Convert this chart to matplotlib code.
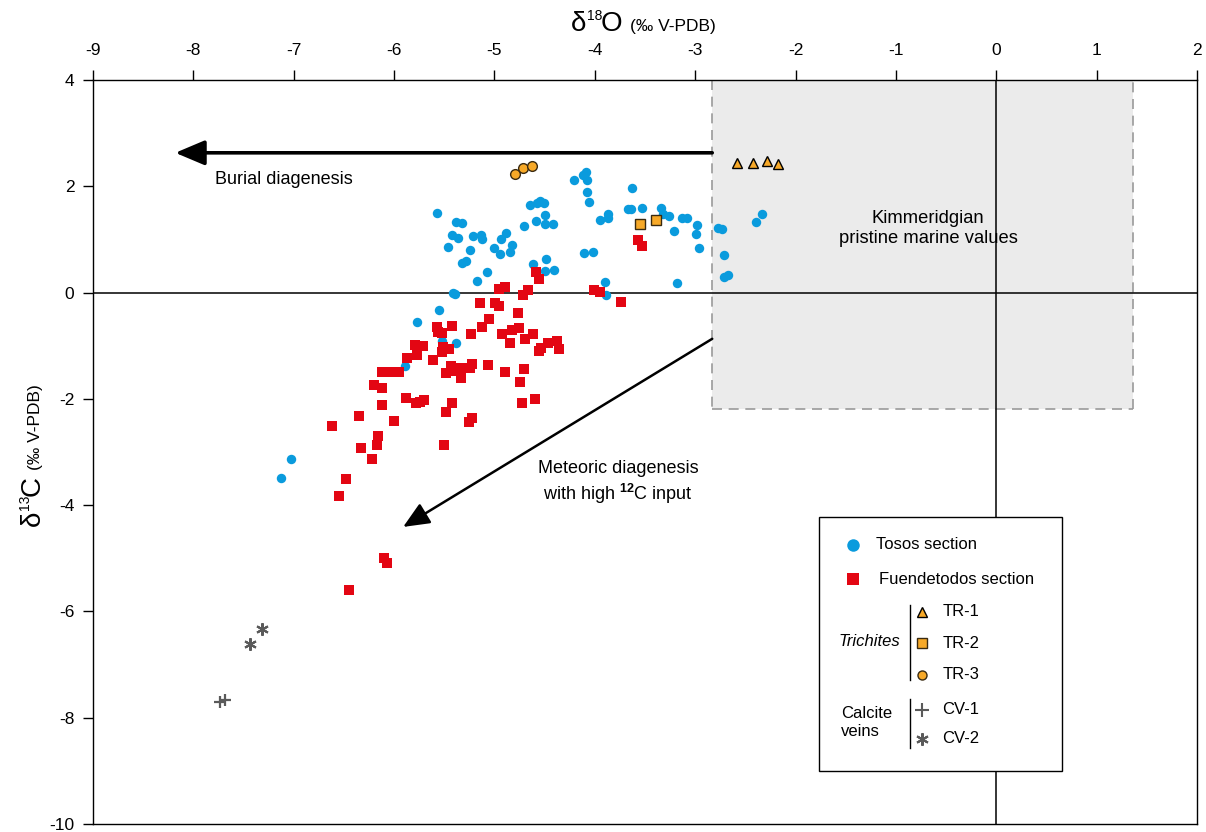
import matplotlib
matplotlib.use("Agg")
import matplotlib.pyplot as plt
from matplotlib.patches import Rectangle
from matplotlib.lines import Line2D

plt.rcParams['font.family'] = ['Liberation Sans', 'DejaVu Sans']
plt.rcParams['axes.unicode_minus'] = False
plt.rcParams['mathtext.fontset'] = 'custom'
plt.rcParams['mathtext.rm'] = 'Liberation Sans'
plt.rcParams['mathtext.it'] = 'Liberation Sans:italic'
plt.rcParams['mathtext.bf'] = 'Liberation Sans:bold'

# ---------------- data (δ18O, δ13C in ‰ V-PDB) ----------------
tosos_d18O = [-5.57, -5.38, -5.32, -5.42, -5.36, -5.46, -5.21, -5.13, -5.12, -5.24,
              -5.32, -5.28, -5.07, -5.17, -5.41, -5.39, -5.55, -5.77, -5.00, -4.93,
              -4.88, -4.94, -4.85, -4.83, -4.71, -4.65, -4.58, -4.55, -4.51, -4.50,
              -4.59, -4.50, -4.42, -4.62, -4.49, -4.50, -4.41, -4.21, -4.12, -4.09,
              -4.08, -4.08, -4.06, -3.95, -3.87, -3.87, -4.11, -4.02, -3.90, -3.89,
              -3.63, -3.67, -3.64, -3.53, -3.34, -3.32, -3.26, -3.21, -3.13, -3.08,
              -2.98, -2.99, -2.96, -3.18, -2.77, -2.73, -2.71, -2.71, -2.67, -2.39,
              -2.33, -5.52, -5.38, -5.89, -7.03, -7.13]
tosos_d13C = [1.50, 1.33, 1.30, 1.08, 1.02, 0.85, 1.06, 1.08, 1.01, 0.81,
              0.56, 0.60, 0.39, 0.22, -0.01, -0.02, -0.32, -0.55, 0.83, 1.00,
              1.13, 0.73, 0.77, 0.89, 1.25, 1.64, 1.68, 1.73, 1.69, 1.46,
              1.35, 1.29, 1.29, 0.54, 0.63, 0.41, 0.43, 2.11, 2.21, 2.26,
              2.11, 1.90, 1.71, 1.37, 1.47, 1.40, 0.75, 0.77, 0.19, -0.05,
              1.96, 1.57, 1.57, 1.59, 1.60, 1.48, 1.45, 1.16, 1.40, 1.40,
              1.27, 1.10, 0.83, 0.18, 1.21, 1.19, 0.71, 0.29, 0.33, 1.33,
              1.48, -0.92, -0.94, -1.38, -3.13, -3.48]

fuen_d18O = [-3.57, -3.53, -4.59, -4.56, -4.95, -4.89, -4.67, -4.72, -5.14, -4.99,
             -4.95, -4.77, -5.05, -4.01, -3.95, -3.74, -5.42, -5.12, -5.57, -5.56,
             -5.52, -5.23, -4.92, -4.83, -4.76, -4.85, -4.70, -4.62, -4.56, -4.54,
             -4.47, -4.38, -4.36, -5.79, -5.71, -5.77, -5.87, -5.51, -5.45, -5.52,
             -5.61, -6.12, -6.02, -5.95, -5.43, -5.34, -5.48, -5.40, -5.24, -5.22,
             -5.33, -5.06, -4.89, -4.71, -4.75, -6.20, -6.12, -5.88, -5.78, -5.74,
             -5.70, -5.42, -5.48, -4.73, -4.60, -6.12, -6.35, -6.00, -6.62, -5.25,
             -5.22, -6.16, -6.17, -6.33, -6.22, -5.50, -6.48, -6.55, -6.10, -6.07,
             -6.45]
fuen_d13C = [0.98, 0.88, 0.39, 0.25, 0.07, 0.11, 0.05, -0.05, -0.20, -0.20,
             -0.25, -0.38, -0.50, 0.05, 0.02, -0.18, -0.62, -0.64, -0.65, -0.74,
             -0.77, -0.78, -0.78, -0.70, -0.67, -0.95, -0.88, -0.78, -1.10, -1.05,
             -0.94, -0.92, -1.07, -0.99, -1.00, -1.17, -1.24, -1.02, -1.06, -1.12,
             -1.27, -1.50, -1.50, -1.50, -1.38, -1.42, -1.52, -1.47, -1.42, -1.35,
             -1.61, -1.37, -1.50, -1.44, -1.69, -1.73, -1.80, -1.98, -2.08, -2.06,
             -2.02, -2.08, -2.25, -2.08, -2.00, -2.12, -2.33, -2.42, -2.52, -2.44,
             -2.36, -2.69, -2.87, -2.93, -3.14, -2.87, -3.51, -3.83, -5.00, -5.09,
             -5.60]

tr1_d18O = [-2.58, -2.42, -2.28, -2.17]
tr1_d13C = [2.43, 2.44, 2.47, 2.42]
tr2_d18O = [-3.55, -3.39]
tr2_d13C = [1.29, 1.37]
tr3_d18O = [-4.80, -4.72, -4.63]
tr3_d13C = [2.24, 2.35, 2.38]
cv1_d18O = [-7.73, -7.68]
cv1_d13C = [-7.70, -7.67]
cv2_d18O = [-7.32, -7.44]
cv2_d13C = [-6.34, -6.61]

# pristine marine field (Kimmeridgian)
marine_d18O = [-2.83, 1.36]
marine_d13C = [-2.2, 4.0]
# diagenetic trends (start, end)
burial_start, burial_end = (-2.83, 2.63), (-8.18, 2.63)
meteoric_start, meteoric_end = (-2.83, -0.87), (-5.91, -4.41)

x_ticks = list(range(-9, 3))
y_ticks = list(range(-10, 5, 2))

BLUE = '#0A9BDD'
RED = '#E30613'
ORANGE = '#F7A928'
GREY = '#5a5a5a'

W, H = 1206, 832
fig = plt.figure(figsize=(W / 100, H / 100), dpi=100)


def fx(px):
    return px / W


def fy(py):
    return 1 - py / H


ax = fig.add_axes([fx(93), fy(824), (1197 - 93) / W, (824 - 80) / H])
ax.set_xlim(-9, 2)
ax.set_ylim(-10, 4)
ax.xaxis.tick_top()
ax.set_xticks(x_ticks)
ax.set_xticklabels([str(t) for t in x_ticks])
ax.set_yticks(y_ticks)
ax.set_yticklabels([str(t) for t in y_ticks])
ax.tick_params(axis='x', direction='out', length=7.5, width=1, labelsize=12.5, pad=8.5)
ax.tick_params(axis='y', direction='out', length=7.5, width=1, labelsize=12.5, pad=6)
for s in ax.spines.values():
    s.set_linewidth(1.0)

# marine field
ax.add_patch(Rectangle((marine_d18O[0], marine_d13C[0]), marine_d18O[1] - marine_d18O[0],
                       marine_d13C[1] - marine_d13C[0], facecolor='#ebebeb',
                       edgecolor='none', zorder=0))
dash = dict(color='#9a9a9a', lw=1.2, dashes=(6, 4), zorder=0.5)
ax.plot([marine_d18O[0], marine_d18O[0]], [marine_d13C[1], marine_d13C[0]], **dash)
ax.plot([marine_d18O[0], marine_d18O[1]], [marine_d13C[0], marine_d13C[0]], **dash)
ax.plot([marine_d18O[1], marine_d18O[1]], [marine_d13C[0], marine_d13C[1]], **dash)

ax.axhline(0, color='k', lw=1.1, zorder=1)
ax.axvline(0, color='k', lw=1.1, zorder=1)

# arrows
ax.annotate('', xy=burial_end, xytext=burial_start,
            arrowprops=dict(arrowstyle='-|>,head_length=0.9,head_width=0.38', lw=2.6,
                            color='k', shrinkA=0, shrinkB=0, mutation_scale=20), zorder=2)
ax.annotate('', xy=meteoric_end, xytext=meteoric_start,
            arrowprops=dict(arrowstyle='-|>,head_length=0.8,head_width=0.35', lw=1.8,
                            color='k', shrinkA=0, shrinkB=0, mutation_scale=20), zorder=2)

ax.text(-7.78, 2.12, 'Burial diagenesis', fontsize=13, ha='left', va='center')
ax.text(-0.68, 1.21, 'Kimmeridgian\npristine marine values', fontsize=13.2,
        ha='center', va='center', linespacing=1.2)
ax.text(-3.77, -3.58, 'Meteoric diagenesis\nwith high $^{\\mathbf{12}}$C input', fontsize=13,
        ha='center', va='center', linespacing=1.25)

# data
ax.plot(tosos_d18O, tosos_d13C, 'o', color=BLUE, ms=6.8, mew=0, zorder=3)
ax.plot(fuen_d18O, fuen_d13C, 's', color=RED, ms=6.8, mew=0, zorder=4)
ax.plot(tr1_d18O, tr1_d13C, '^', mfc=ORANGE, mec='k', ms=7, mew=1.0, zorder=5)
ax.plot(tr2_d18O, tr2_d13C, 's', mfc=ORANGE, mec='#3a2a10', ms=7, mew=1.0, zorder=5)
ax.plot(tr3_d18O, tr3_d13C, 'o', mfc=ORANGE, mec='#3a2a10', ms=7, mew=1.0, zorder=5)
ax.plot(cv1_d18O, cv1_d13C, '+', color=GREY, ms=9, mew=1.6, zorder=5)
ax.plot(cv2_d18O, cv2_d13C, linestyle='none', marker=(6, 2, 0), color=GREY, ms=9,
        mew=1.5, zorder=5)

# axis titles
TB = 31    # baseline of top title (px)
fig.text(fx(571), fy(TB), '\u03b4', fontsize=20, ha='left', va='baseline')
fig.text(fx(587), fy(TB - 11), '18', fontsize=10, ha='left', va='baseline')
fig.text(fx(601), fy(TB), 'O', fontsize=20, ha='left', va='baseline')
fig.text(fx(630), fy(TB), '(\u2030 V-PDB)', fontsize=12.5, ha='left', va='baseline')

LB = 40    # baseline of left title (px)
fig.text(fx(LB), fy(526), '\u03b4', fontsize=20, ha='left', va='baseline',
         rotation=90, rotation_mode='anchor')
fig.text(fx(LB - 11), fy(510), '13', fontsize=10, ha='left', va='baseline',
         rotation=90, rotation_mode='anchor')
fig.text(fx(LB), fy(496), 'C', fontsize=20, ha='left', va='baseline',
         rotation=90, rotation_mode='anchor')
fig.text(fx(LB), fy(470), '(\u2030 V-PDB)', fontsize=12.5, ha='left', va='baseline',
         rotation=90, rotation_mode='anchor')

# legend (drawn by hand)
fig.add_artist(Rectangle((fx(819), fy(771)), (1062 - 819) / W, (771 - 517) / H,
                         transform=fig.transFigure, facecolor='white', edgecolor='k',
                         lw=1.0, zorder=10))


def lmark(px, py, **kw):
    fig.add_artist(Line2D([fx(px)], [fy(py)], transform=fig.transFigure, zorder=11,
                          linestyle='none', **kw))


def ltext(px, py, s, **kw):
    fig.text(fx(px), fy(py), s, fontsize=12, va='center', zorder=11, **kw)


lmark(852.7, 544.7, marker='o', color=BLUE, ms=9, mew=0)
ltext(876, 544.7, 'Tosos section')
lmark(852.7, 579.3, marker='s', color=RED, ms=8.5, mew=0)
ltext(879, 579.3, 'Fuendetodos section')
fig.add_artist(Line2D([fx(910), fx(910)], [fy(605), fy(680)], transform=fig.transFigure,
                      color='k', lw=1.0, zorder=11))
fig.add_artist(Line2D([fx(910), fx(910)], [fy(699), fy(748)], transform=fig.transFigure,
                      color='k', lw=1.0, zorder=11))
lmark(922.3, 612, marker='^', mfc=ORANGE, mec='k', ms=6.5, mew=1.0)
lmark(922.3, 643.3, marker='s', mfc=ORANGE, mec='#3a2a10', ms=6.5, mew=1.0)
lmark(922.3, 674.7, marker='o', mfc=ORANGE, mec='#3a2a10', ms=6.5, mew=1.0)
ltext(943, 612, 'TR-1')
ltext(943, 643.3, 'TR-2')
ltext(943, 674.7, 'TR-3')
ltext(900, 641.7, 'Trichites', ha='right', style='italic')
lmark(922.3, 710, marker='+', color=GREY, ms=10, mew=1.5)
lmark(922.3, 738.7, marker=(6, 2, 0), color=GREY, ms=9, mew=1.5)
ltext(942, 710, 'CV-1')
ltext(942, 738.7, 'CV-2')
ltext(841, 722.5, 'Calcite\nveins', ha='left', linespacing=1.25)

fig.savefig('out.png', dpi=100)
